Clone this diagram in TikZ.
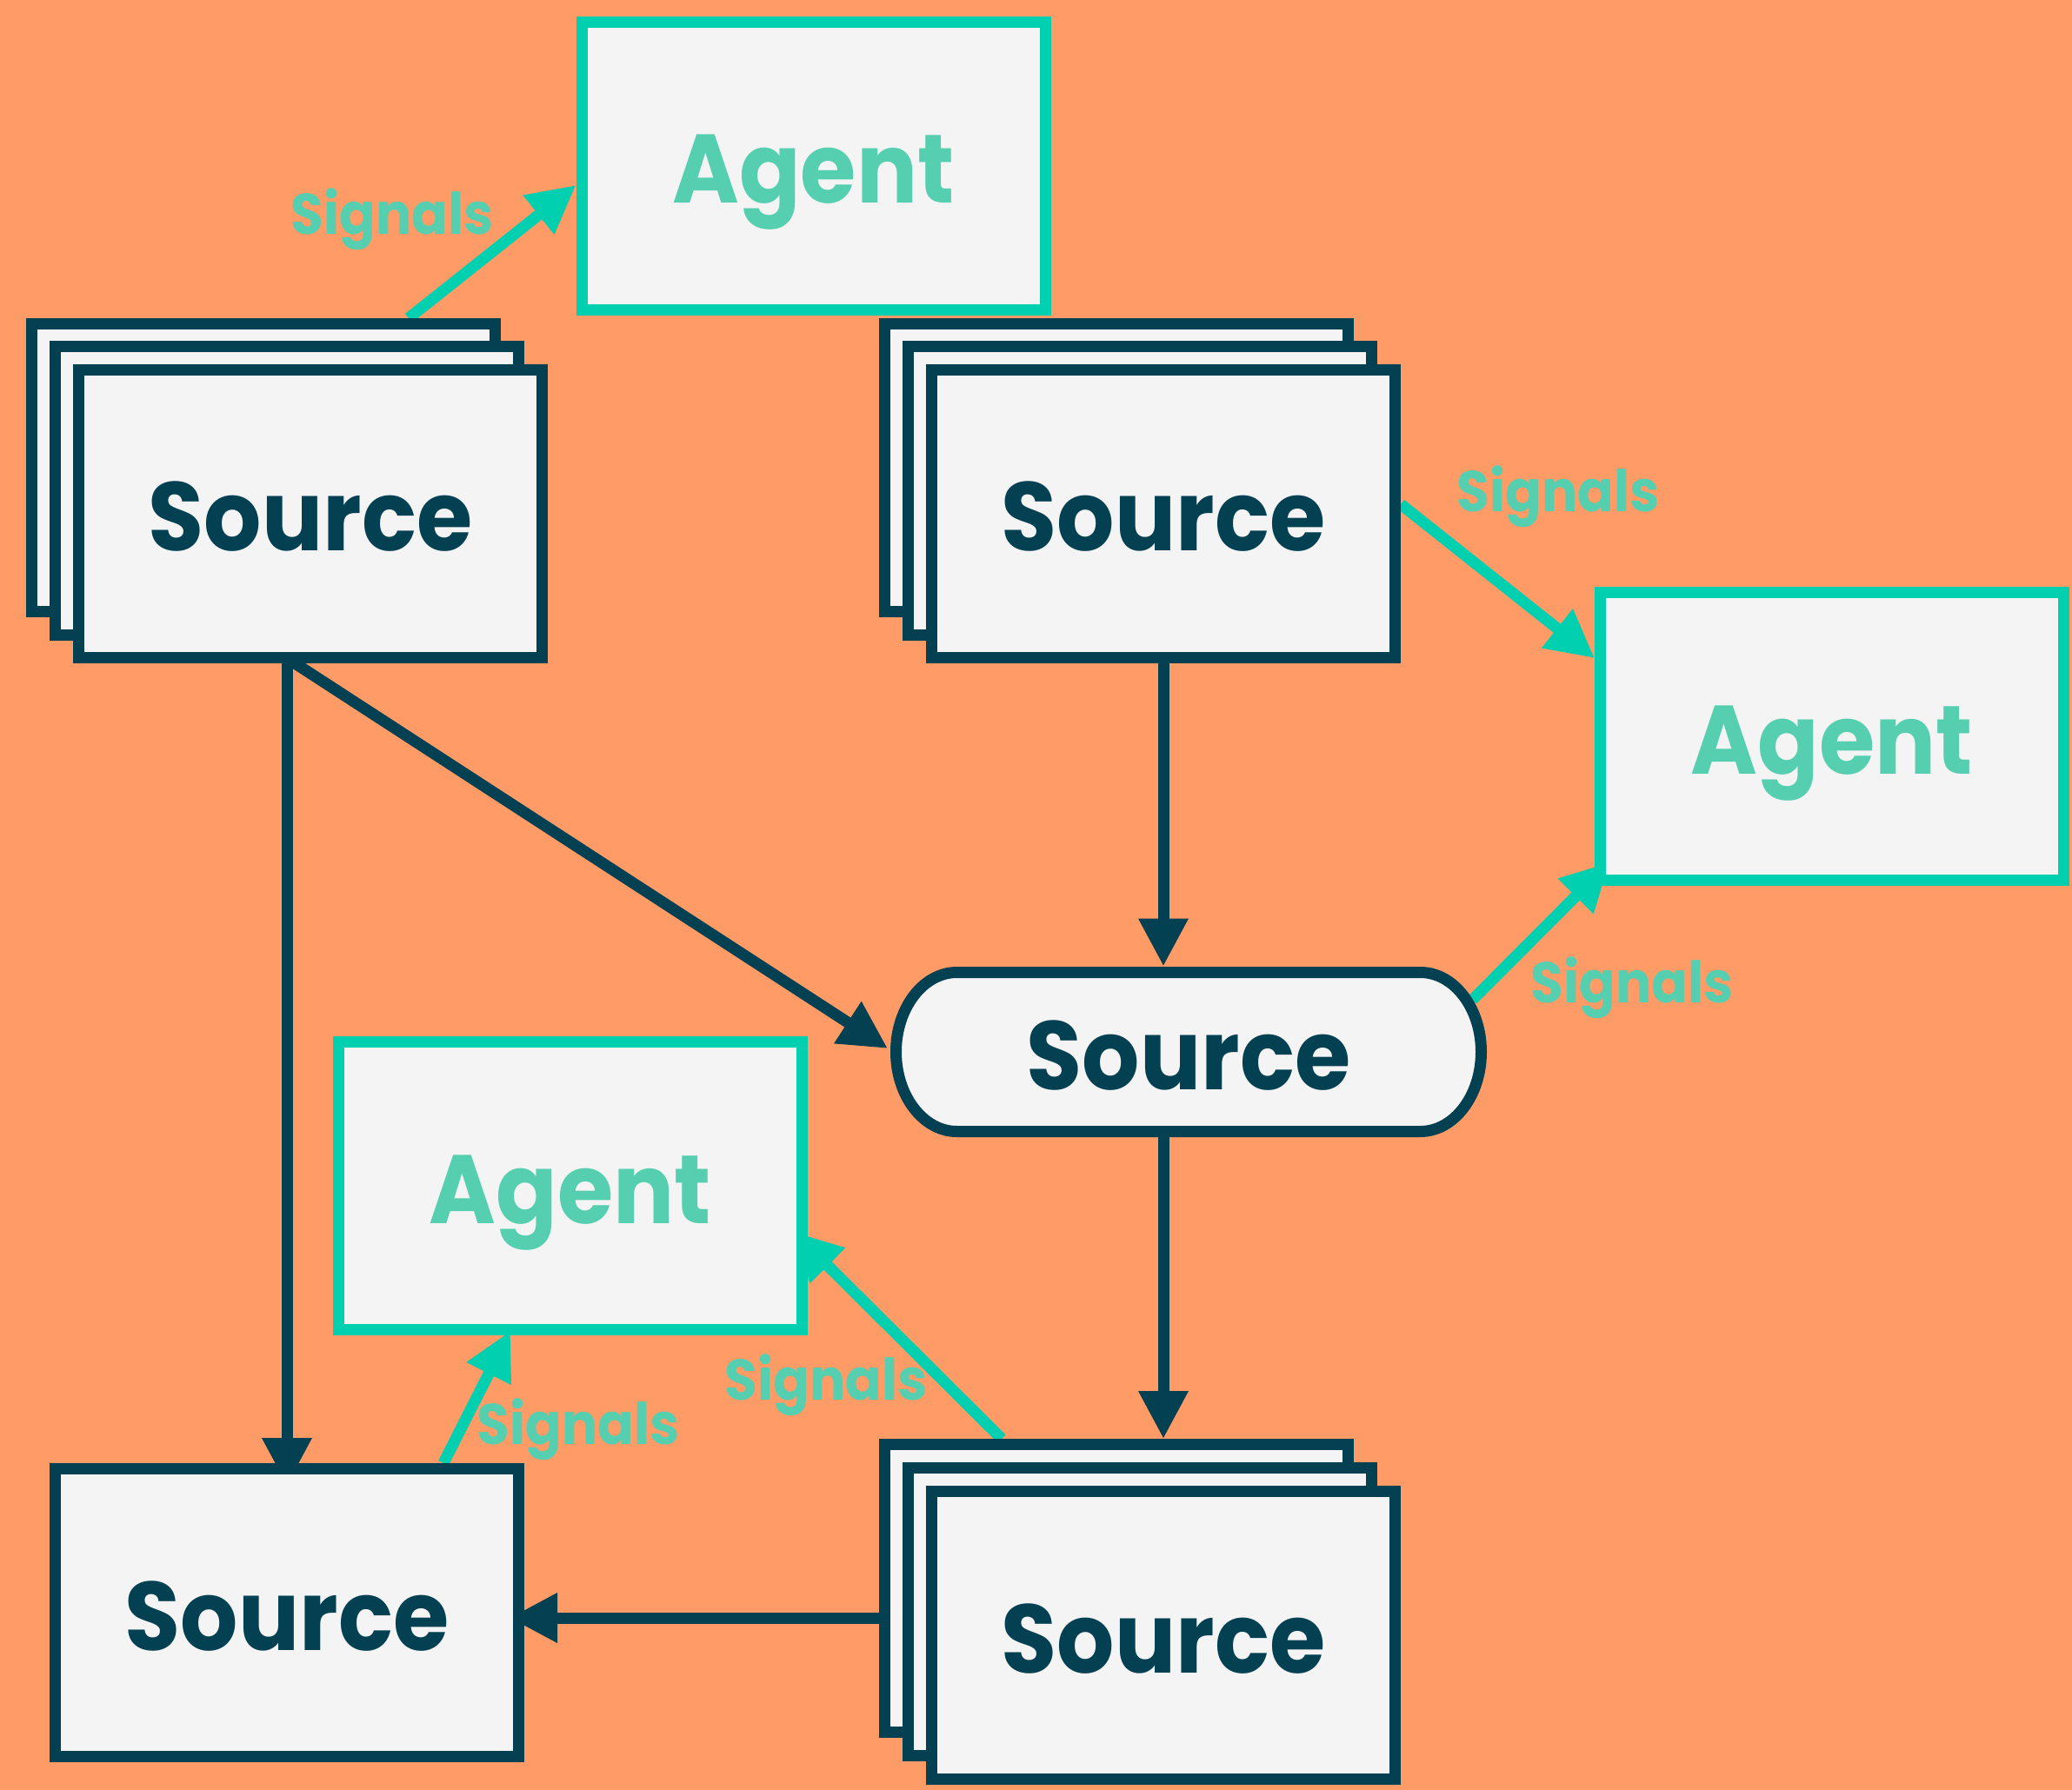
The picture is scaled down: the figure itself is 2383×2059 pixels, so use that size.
\documentclass[tikz,border=0pt]{standalone}
\usepackage{fontspec}
\setmainfont{Poppins}[FakeStretch=0.93]
\usetikzlibrary{arrows.meta,calc}
\pgfdeclarelayer{bgl}\pgfdeclarelayer{edges}\pgfdeclarelayer{mid}
\pgfsetlayers{bgl,edges,mid,main}
\definecolor{bgor}{HTML}{FF9B66}
\definecolor{navy}{HTML}{024052}
\definecolor{tealln}{HTML}{00CFB0}
\definecolor{tealtx}{HTML}{55CFAF}
\definecolor{boxf}{HTML}{F4F4F4}
\begin{document}
\begin{tikzpicture}[x=0.5pt,y=-0.5pt,
  box/.style={rectangle, minimum width=266.5pt, minimum height=165.5pt, inner sep=0pt,
    line width=6.5pt, fill=boxf, font=\bfseries\fontsize{56}{60}\selectfont,
    text height=43pt, text depth=0pt},
  srcbox/.style={box, draw=navy, text=navy},
  agentbox/.style={box, draw=tealln, text=tealtx},
  navyarrow/.style={draw=navy, line width=6.5pt, -{Triangle[length=27.5pt,width=27pt]}},
  tealarrow/.style={draw=tealln, line width=6.5pt, -{Triangle[length=27.5pt,width=27pt]}},
  siglabel/.style={anchor=base, text=tealtx, font=\bfseries\fontsize{33}{36}\selectfont, inner sep=0pt},
]
\useasboundingbox (0,0) rectangle (2383,2059);
\begin{pgfonlayer}{bgl}
\fill[bgor] (0,0) rectangle (2383,2059);
\end{pgfonlayer}

% nodes
\node[agentbox] (AT) at (935.5,191) {Agent};
\node[srcbox] (TLb) at (303,538) {};
\node[srcbox] (TLm) at (330,564.5) {};
\node[srcbox] (TLf) at (357,591) {Source};
\node[srcbox] (TRb) at (1284,538) {};
\node[srcbox] (TRm) at (1311,564.5) {};
\node[srcbox] (TRf) at (1338,591) {Source};
\node[agentbox] (AR) at (2107,847) {Agent};
\node[inner sep=0pt, outer sep=0pt, minimum width=336.5pt, minimum height=91.5pt,
      text=navy, font=\bfseries\fontsize{56}{60}\selectfont, text height=43pt, text depth=0pt]
      (R) at (1367,1210) {Source};
\node[agentbox] (AM) at (656,1364) {Agent};
\node[srcbox] (BL) at (330,1855) {Source};
\node[srcbox] (BRb) at (1284,1827) {};
\node[srcbox] (BRm) at (1311,1854) {};
\node[srcbox] (BRf) at (1338,1881) {Source};

% rounded source outline
\begin{pgfonlayer}{mid}
\draw[navy, line width=6.5pt, fill=boxf]
  ($(R.north west)+(70,0)$) -- ($(R.north east)+(-70,0)$)
  arc[start angle=90, end angle=-90, x radius=35pt, y radius=45.75pt]
  -- ($(R.south west)+(70,0)$)
  arc[start angle=270, end angle=90, x radius=35pt, y radius=45.75pt] -- cycle;
\end{pgfonlayer}

% connectors
\begin{pgfonlayer}{edges}
\draw[tealarrow] ($(TLb.north)+(167,0)$) -- ($(AT.west)+(0,22)$);
\draw[tealarrow] ($(TRf.east)+(0,-11)$) -- ($(AR.west)+(0,-90)$);
\draw[tealarrow] ($(R.east)+(-10,-60)$) -- ($(AR.south west)+(17,-27)$);
\draw[tealarrow] ($(BRb.north)+(-132,0)$) -- ($(AM.east)+(-16,53)$);
\draw[tealarrow] ($(BL.north)+(180,0)$) -- ($(AM.south)+(-69,-5)$);

\draw[navyarrow] (BL.north |- TLf.south) -- ($(BL.north)+(0,26)$);
\draw[navyarrow] ($(BL.north |- TLf.south)+(0,-6)$) -- ($(R.west)+(-9.5,-4)$);
\draw[navyarrow] (TRf.south) -- ($(TRf.south |- R.north)+(0,-7)$);
\draw[navyarrow] (TRf.south |- R.south) -- (TRf.south |- BRb.north);
\draw[navyarrow] ($(BRb.west |- BL.east)+(0,6)$) -- ($(BL.east)+(-17,6)$);
\end{pgfonlayer}

% labels
\node[siglabel] (La) at (451,270) {Signals};
\node[siglabel] (Lb) at (1792,589) {Signals};
\node[siglabel] (Lc) at (1877,1153) {Signals};
\node[siglabel] (Ld) at (950,1610) {Signals};
\node[siglabel] (Le) at (665,1661) {Signals};
\end{tikzpicture}
\end{document}
